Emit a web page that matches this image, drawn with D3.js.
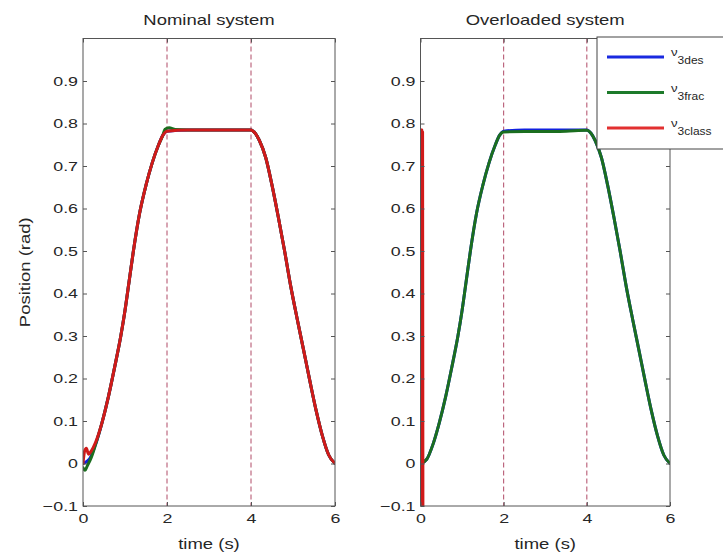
<!DOCTYPE html>
<html>
<head>
<meta charset="utf-8">
<script src="https://cdn.jsdelivr.net/npm/d3@7"></script>
<style>
  html, body { margin: 0; padding: 0; background: #fff; }
  svg text { font-family: "Liberation Sans", Arial, Helvetica, sans-serif; fill: #262626; }
</style>
</head>
<body>
<svg id="chart" width="723" height="558"></svg>
<script>
// --- data ---
const xTicks = [0, 2, 4, 6];
const yTicks = [-0.1, 0, 0.1, 0.2, 0.3, 0.4, 0.5, 0.6, 0.7, 0.8, 0.9];
const switchTimes = [2, 4];
const panelTitles = ["Nominal system", "Overloaded system"];
const legendLabels = ["3des", "3frac", "3class"];

// desired trajectory nu_3des (t, rad)
const desTime = [0, 0.15, 0.3, 0.45, 0.6, 0.75, 0.9, 1.0, 1.1, 1.2, 1.35, 1.5, 1.65, 1.8, 1.9, 2.0,
                 2.5, 3.0, 3.5, 4.0, 4.1, 4.2, 4.35, 4.5, 4.65, 4.8, 4.95, 5.1, 5.25, 5.4,
                 5.55, 5.7, 5.85, 6.0];
const desValue = [0, 0.01, 0.045, 0.095, 0.155, 0.225, 0.30, 0.36, 0.43, 0.50, 0.59, 0.655, 0.708, 0.75, 0.772, 0.782,
                  0.785, 0.785, 0.785, 0.785, 0.777, 0.76, 0.72, 0.655, 0.58, 0.50, 0.415, 0.34, 0.268, 0.195,
                  0.125, 0.065, 0.02, 0];

// nominal system: start transients and the small overshoot at t = 2
const fracNomStart = [[0, -0.01], [0.05, -0.016], [0.1, -0.006], [0.2, 0.015]];
const fracNomCorner = [[1.95, 0.786], [2.05, 0.79], [2.2, 0.786]];
const classNomStart = [[0, 0.0], [0.04, 0.03], [0.08, 0.036], [0.13, 0.022], [0.2, 0.03], [0.3, 0.05]];

// overloaded system: fractional controller sits a hair under the plateau,
// classical controller oscillates wildly right at t = 0
const fracOvlPlateau = [[2.0, 0.780], [2.5, 0.781], [3.0, 0.781], [3.5, 0.782], [4.0, 0.784]];
const classOvl = [[0, 0], [0.01, 0.785], [0.02, -0.3], [0.03, 0.785], [0.04, -0.3], [0.05, 0.78], [0.06, -0.3]];

const desired = desTime.map((t, i) => [t, desValue[i]]);
const inside = (a, b) => desired.filter(p => p[0] > a && p[0] < b);

const fracNominal = [...fracNomStart, ...inside(0.25, 1.95), ...fracNomCorner, ...inside(2.25, 6.1)];
const classNominal = [...classNomStart, ...inside(0.35, 6.1)];
const fracOverloaded = [...inside(-1, 1.99), ...fracOvlPlateau, ...inside(4.01, 6.1)];

const colors = { des: "#1020e0", frac: "#1b6e1f", cls: "#d01a1a" };
const dashColor = "#b04a66";
const axisColor = "#555";
const stretchX = 1.32;

const svg = d3.select("#chart");
const yScale = d3.scaleLinear().domain([-0.1, 1.0]).range([506, 38.5]);

// stretch text along its baseline (the reference glyphs are wide)
function stretch(sel) {
  sel.each(function () {
    const t = d3.select(this);
    const x0 = +t.attr("x") || 0;
    t.attr("transform", `translate(${x0},0) scale(${stretchX},1) translate(${-x0},0)`);
  });
}

const panels = [
  { x0: 83, x1: 335, title: panelTitles[0], series: [[desired, colors.des], [fracNominal, colors.frac], [classNominal, colors.cls]] },
  { x0: 420.5, x1: 670, title: panelTitles[1], series: [[desired, colors.des], [fracOverloaded, colors.frac], [classOvl, colors.cls]] }
];

panels.forEach((p, pi) => {
  const xScale = d3.scaleLinear().domain([0, 6]).range([p.x0, p.x1]);
  const g = svg.append("g");
  const clipId = "clip" + pi;
  svg.append("defs").append("clipPath").attr("id", clipId)
    .append("rect")
    .attr("x", p.x0).attr("y", yScale(1.0))
    .attr("width", p.x1 - p.x0).attr("height", yScale(-0.1) - yScale(1.0));

  // dashed switching lines
  g.selectAll(".sw").data(switchTimes).enter().append("line")
    .attr("x1", d => xScale(d)).attr("x2", d => xScale(d))
    .attr("y1", yScale(1.0)).attr("y2", yScale(-0.1))
    .attr("stroke", dashColor).attr("stroke-width", 1)
    .attr("stroke-dasharray", "5,3");

  const line = d3.line().x(d => xScale(d[0])).y(d => yScale(d[1])).curve(d3.curveMonotoneX);
  const linesG = g.append("g").attr("clip-path", `url(#${clipId})`);
  p.series.forEach(([pts, col], si) => {
    linesG.append("path")
      .attr("d", si === 2 && pi === 1 ? d3.line().x(d => xScale(d[0])).y(d => yScale(d[1]))(pts) : line(pts))
      .attr("fill", "none").attr("stroke", col)
      .attr("stroke-width", 3).attr("stroke-linejoin", "round").attr("stroke-linecap", "round");
  });

  // axes with inward ticks on all four sides
  const fmt = d => d === 0 ? "0" : d3.format(".1f")(d);
  const left = g.append("g").attr("transform", `translate(${p.x0},0)`)
    .call(d3.axisLeft(yScale).tickValues(yTicks).tickFormat(fmt).tickSizeInner(-4).tickSizeOuter(0).tickPadding(5));
  const right = g.append("g").attr("transform", `translate(${p.x1},0)`)
    .call(d3.axisRight(yScale).tickValues(yTicks).tickFormat("").tickSizeInner(-4).tickSizeOuter(0));
  const bottom = g.append("g").attr("transform", `translate(0,${yScale(-0.1)})`)
    .call(d3.axisBottom(xScale).tickValues(xTicks).tickFormat(d3.format("d")).tickSizeInner(-4).tickSizeOuter(0).tickPadding(7));
  const top = g.append("g").attr("transform", `translate(0,${yScale(1.0)})`)
    .call(d3.axisTop(xScale).tickValues(xTicks).tickFormat("").tickSizeInner(-4).tickSizeOuter(0));

  [left, right, bottom, top].forEach(a => {
    a.select(".domain").remove();
    a.selectAll("line").attr("stroke", axisColor);
    a.selectAll("text").style("font-size", "13.5px").attr("fill", "#262626");
  });
  left.selectAll("text").call(stretch);
  bottom.selectAll("text").call(stretch);

  g.append("rect")
    .attr("x", p.x0).attr("y", yScale(1.0))
    .attr("width", p.x1 - p.x0).attr("height", yScale(-0.1) - yScale(1.0))
    .attr("fill", "none").attr("stroke", axisColor).attr("stroke-width", 1);

  // title and x label
  const cx = (p.x0 + p.x1) / 2;
  g.append("text").attr("x", cx).attr("y", 25).attr("text-anchor", "middle")
    .style("font-size", "14px").text(p.title).call(stretch);
  g.append("text").attr("x", cx).attr("y", 549).attr("text-anchor", "middle")
    .style("font-size", "14px").text("time (s)").call(stretch);
});

// y label
svg.append("text")
  .attr("transform", `translate(30,${(yScale(1.0) + yScale(-0.1)) / 2}) rotate(-90) scale(${stretchX},1)`)
  .attr("text-anchor", "middle")
  .style("font-size", "14px")
  .text("Position (rad)");

// legend, drawn over the right panel
const legend = svg.append("g");
legend.append("rect")
  .attr("x", 597).attr("y", 37).attr("width", 140).attr("height", 112)
  .attr("fill", "#fff").attr("stroke", "#444").attr("stroke-width", 1);
const legendColors = ["#1a2ae0", "#1d7a2a", "#e23030"];
const legendY = d3.scalePoint().domain(legendLabels).range([57, 128]);
legendLabels.forEach((lab, i) => {
  const y = legendY(lab);
  legend.append("line")
    .attr("x1", 607).attr("x2", 664).attr("y1", y).attr("y2", y)
    .attr("stroke", legendColors[i]).attr("stroke-width", 3);
  const t = legend.append("text")
    .attr("transform", `translate(671,${y}) scale(1.2,1)`)
    .style("font-size", "11px");
  t.append("tspan").attr("x", 0).attr("y", -1).text("ν");
  t.append("tspan").attr("y", 7).style("font-size", "10px").text(lab);
});
</script>
</body>
</html>
